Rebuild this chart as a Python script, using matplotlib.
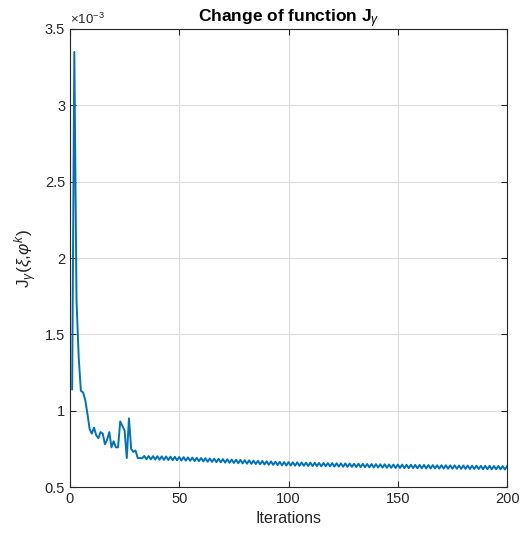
import numpy as np
import matplotlib
matplotlib.use("Agg")
import matplotlib.pyplot as plt
from matplotlib.ticker import FuncFormatter

plt.rcParams['font.family'] = ['Liberation Sans', 'DejaVu Sans']
plt.rcParams['mathtext.fontset'] = 'custom'
plt.rcParams['mathtext.rm'] = 'Liberation Sans'
plt.rcParams['mathtext.it'] = 'Liberation Sans:italic'
plt.rcParams['mathtext.bf'] = 'Liberation Sans:bold'

# objective value per iteration, in units of 1e-3
J_start = [1.14, 3.35, 1.72, 1.35, 1.13, 1.12, 1.07, 0.98, 0.88, 0.85,
           0.89, 0.84, 0.82, 0.86, 0.85, 0.78, 0.81, 0.86, 0.76, 0.80,
           0.76, 0.76, 0.93, 0.90, 0.87, 0.69, 0.95, 0.75, 0.73, 0.74,
           0.69, 0.69, 0.688]
J_tail = [0.704, 0.682, 0.703, 0.681, 0.702, 0.680, 0.702,
          0.679, 0.701, 0.678, 0.700, 0.677, 0.699, 0.676, 0.698, 0.675, 0.697,
          0.674, 0.696, 0.673, 0.694, 0.672, 0.693, 0.670, 0.692, 0.669, 0.690,
          0.668, 0.689, 0.666, 0.687, 0.665, 0.686, 0.663, 0.685, 0.662, 0.683,
          0.660, 0.682, 0.659, 0.680, 0.658, 0.679, 0.656, 0.678, 0.655, 0.676,
          0.653, 0.675, 0.652, 0.673, 0.651, 0.672, 0.649, 0.671, 0.648, 0.669,
          0.646, 0.668, 0.645, 0.666, 0.644, 0.665, 0.642, 0.664, 0.641, 0.663,
          0.641, 0.662, 0.640, 0.662, 0.639, 0.661, 0.639, 0.660, 0.638, 0.660,
          0.637, 0.659, 0.637, 0.658, 0.636, 0.658, 0.636, 0.657, 0.635, 0.657,
          0.634, 0.656, 0.634, 0.655, 0.633, 0.655, 0.632, 0.654, 0.632, 0.653,
          0.631, 0.653, 0.630, 0.652, 0.630, 0.651, 0.629, 0.651, 0.628, 0.650,
          0.628, 0.649, 0.627, 0.649, 0.626, 0.648, 0.626, 0.647, 0.625, 0.647,
          0.625, 0.647, 0.624, 0.646, 0.624, 0.646, 0.624, 0.645, 0.623, 0.645,
          0.623, 0.645, 0.622, 0.644, 0.622, 0.644, 0.622, 0.643, 0.621, 0.643,
          0.621, 0.643, 0.620, 0.642, 0.620, 0.642, 0.620, 0.641, 0.619, 0.641,
          0.619, 0.641, 0.618, 0.640, 0.618, 0.640, 0.618, 0.639, 0.617, 0.639,
          0.617, 0.639, 0.616, 0.638, 0.616, 0.638, 0.616, 0.637, 0.615, 0.637]
J_vals = np.array(J_start + J_tail)
iterations = np.arange(1, len(J_vals) + 1)

x_ticks = [0, 50, 100, 150, 200]
y_ticks = [0.5, 1, 1.5, 2, 2.5, 3, 3.5]

fig = plt.figure(figsize=(5.26, 5.37), dpi=100)
ax = fig.add_axes([0.133, 0.093, 0.831, 0.853])

ax.plot(iterations, J_vals, color='#0072BD', lw=1.4)

ax.set_xlim(0, 200)
ax.set_ylim(0.5, 3.5)
ax.set_xticks(x_ticks)
ax.set_yticks(y_ticks)
ax.yaxis.set_major_formatter(FuncFormatter(lambda v, p: '%g' % v))

ax.grid(True, color='#dcdcdc', lw=0.8)
ax.set_axisbelow(True)
for s in ax.spines.values():
    s.set_color('#262626')
    s.set_linewidth(0.8)
ax.tick_params(direction='in', length=4, width=0.8, colors='#262626',
               labelsize=10.5, top=True, right=True, labelcolor='#262626')

ax.text(0, 1.005, r'$\times$10$^{-3}$', transform=ax.transAxes,
        ha='left', va='bottom', fontsize=9.5, color='#262626')

ax.set_xlabel('Iterations', fontsize=11.5, color='#262626', labelpad=4)
ax.set_ylabel(r'J$_\gamma$($\xi$,$\varphi^k$)', fontsize=12.5, color='#262626', labelpad=4)
ax.set_title(r'Change of function J$_\gamma$', fontsize=12.5, fontweight='bold', pad=5)

fig.savefig('out.png', dpi=100)
